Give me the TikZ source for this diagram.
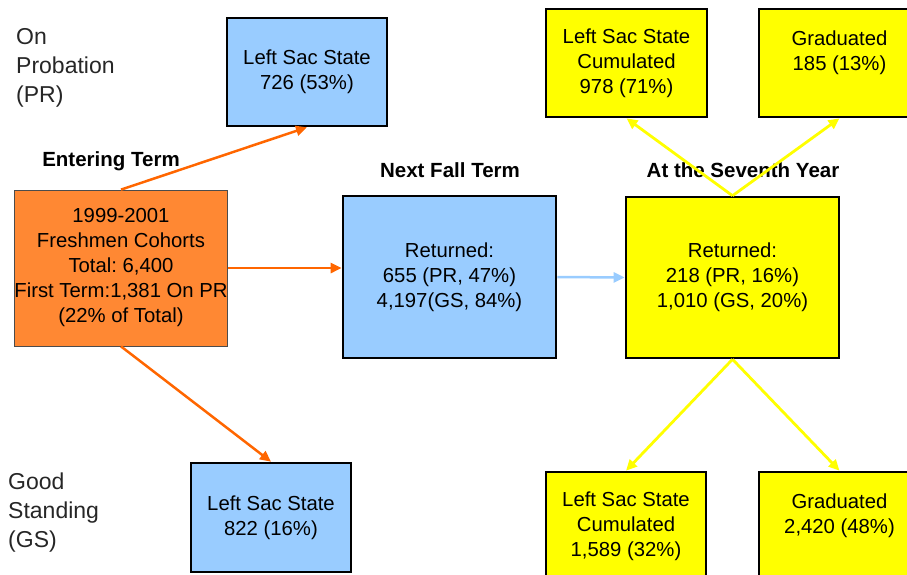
\documentclass[tikz,border=0pt]{standalone}
\usepackage{fontspec}
\setmainfont{Liberation Sans}
\usetikzlibrary{arrows.meta}
\frenchspacing
\definecolor{boxblue}{HTML}{99CCFF}
\definecolor{boxorange}{HTML}{FF8833}
\definecolor{arrorange}{HTML}{FF6600}
\definecolor{boxyellow}{HTML}{FFFF00}
\tikzset{
  bx/.style={draw=black, line width=2.6pt, rectangle, align=center, inner sep=0pt,
    font=\fontsize{20.3}{25}\selectfont\frenchspacing},
  bluebox/.style={bx, fill=boxblue},
  yelbox/.style={bx, fill=boxyellow},
  orbox/.style={draw=black!70, line width=0.8pt, fill=boxorange, rectangle, align=center, inner sep=0pt,
    font=\fontsize{20.3}{25}\selectfont\frenchspacing},
  sidelab/.style={anchor=west, align=left, inner sep=0pt, font=\fontsize{23}{29}\selectfont, text=black!85},
  headlab/.style={inner sep=0pt, font=\fontsize{20.5}{24}\selectfont\bfseries},
  orarrow/.style={draw=arrorange, line width=2.5pt, -{Triangle[length=11pt,width=10pt]}},
  bluearrow/.style={draw=boxblue, line width=2.5pt, -{Triangle[length=11pt,width=10pt]}},
  yelarrow/.style={draw=boxyellow, line width=2.8pt, -{Triangle[length=11pt,width=10pt]}},
}
\begin{document}
\begin{tikzpicture}[x=1pt,y=-1pt]
\useasboundingbox (0,0) rectangle (907,574);
\clip (0,0) rectangle (907,574);
% side labels
\node[sidelab] (pr) at (16,68) {On\\Probation\\(PR)};
\node[sidelab] (gs) at (8,513) {Good\\Standing\\(GS)};
% header labels
\node[headlab] (enter) at (111,161) {Entering Term};
\node[headlab] (nextfall) at (450,170) {Next Fall Term};
% boxes
\node[bluebox, minimum width=160pt, minimum height=108pt] (topblue) at (307,72) {Left Sac State\\726 (53\%)};
\node[orbox, minimum width=210pt, minimum height=156pt] (orange) at (121,268)
  {1999-2001\\Freshmen Cohorts\\Total: 6,400\\First Term:1,381 On PR\\(22\% of Total)};
\node[bluebox, minimum width=213pt, minimum height=162pt] (midblue) at (449.5,277)
  {Returned:\\655 (PR, 47\%)\\4,197(GS, 84\%)};
\node[yelbox, minimum width=213pt, minimum height=161pt] (midyel) at (732.5,277.5)
  {Returned:\\218 (PR, 16\%)\\1,010 (GS, 20\%)};
\node[yelbox, minimum width=161pt, minimum height=108pt] (tyl) at (626.5,63)
  {Left Sac State\\Cumulated\\978 (71\%)};
\node[yelbox, minimum width=161pt, minimum height=108pt] (tyr) at (839.5,63)
  {Graduated\\185 (13\%)\\\mbox{}};
\node[bluebox, minimum width=160pt, minimum height=109pt] (botblue) at (271,517.5)
  {Left Sac State\\822 (16\%)};
\node[yelbox, minimum width=160pt, minimum height=108pt] (byl) at (626,526)
  {Left Sac State\\Cumulated\\1,589 (32\%)};
\node[yelbox, minimum width=161pt, minimum height=108pt] (byr) at (839.5,526)
  {Graduated\\2,420 (48\%)\\\mbox{}};
% connectors
\draw[orarrow] (orange.north) -- (topblue.south);
\draw[orarrow] (orange.south) -- (botblue.north);
\draw[orarrow] (orange.east) -- (orange.east -| midblue.west);
\draw[bluearrow] (midblue.east) -- (midyel.west);
\draw[yelarrow] (midyel.south) -- (byl.north);
\draw[yelarrow] (midyel.south) -- (byr.north);
% seventh year label (under the yellow arrows)
\node[headlab] (seventh) at (743,170) {At the Seventh Year};
\draw[yelarrow] (midyel.north) -- (tyl.south);
\draw[yelarrow] (midyel.north) -- (tyr.south);
\end{tikzpicture}
\end{document}
